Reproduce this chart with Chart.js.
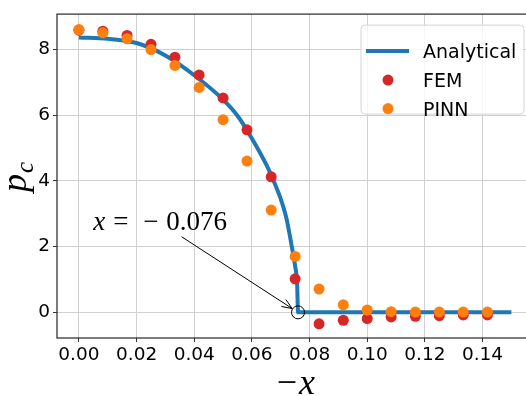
<!DOCTYPE html>
<html lang="en">
<head>
<meta charset="UTF-8" />
<title>Contact pressure p_c</title>
<script src="https://cdn.jsdelivr.net/npm/chart.js"></script>
<style>
  html, body { margin: 0; padding: 0; background: #fff; overflow: hidden; }
  #wrap { width: 540px; height: 396px; }
</style>
</head>
<body>
<div id="wrap"><canvas id="chartCanvas" width="540" height="396"></canvas></div>
<script>
  // positions (-x) where FEM and PINN were sampled
  const sampleX = [0, 0.0083, 0.0167, 0.025, 0.0333, 0.0417, 0.05, 0.0583, 0.0667,
                   0.075, 0.0833, 0.0917, 0.1, 0.1083, 0.1167, 0.125, 0.1333, 0.1417];
  const femP  = [8.58, 8.55, 8.42, 8.15, 7.76, 7.22, 6.52, 5.55, 4.12,
                 1.02, -0.35, -0.24, -0.19, -0.14, -0.12, -0.10, -0.08, -0.08];
  const pinnP = [8.60, 8.50, 8.32, 7.99, 7.51, 6.84, 5.86, 4.60, 3.11,
                 1.70, 0.71, 0.23, 0.07, 0.02, 0.01, 0.01, 0.01, 0.01];

  // analytical solution, drops to zero at the contact edge
  const exactX = [0, 0.01, 0.02, 0.03, 0.04, 0.05, 0.055, 0.06, 0.065, 0.068,
                  0.07, 0.072, 0.074, 0.075, 0.0757, 0.076, 0.15];
  const exactP = [8.36, 8.32, 8.19, 7.81, 7.21, 6.47, 5.98, 5.29, 4.49, 3.90,
                  3.45, 2.85, 1.92, 1.40, 0.85, 0, 0];

  const xTicks = [0, 0.02, 0.04, 0.06, 0.08, 0.10, 0.12, 0.14];
  const yTicks = [0, 2, 4, 6, 8];

  const contactEdge = [0.076, 0];     // circled point
  const noteAt = [0.005, 2.5];        // annotation text baseline start
  const arrowFrom = [0.0356, 2.30];

  const BLUE = '#1f77b4', RED = '#d62728', ORANGE = '#ff7f0e';
  const SANS = '"DejaVu Sans", sans-serif';
  const SERIF = '"Liberation Serif", "Times New Roman", serif';

  const pts = (xs, ys) => xs.map((x, i) => ({ x: x, y: ys[i] }));

  // frame, annotation, legend and axis titles
  const decor = {
    id: 'decor',
    afterDraw(chart) {
      const c = chart.ctx, a = chart.chartArea;
      const sx = chart.scales.x, sy = chart.scales.y;
      c.save();

      // axes frame
      c.strokeStyle = '#262626';
      c.lineWidth = 1.2;
      c.strokeRect(a.left, a.top, a.right - a.left, a.bottom - a.top);

      // circle + arrow at the contact edge
      const cx = sx.getPixelForValue(contactEdge[0]), cy = sy.getPixelForValue(contactEdge[1]);
      const r = 6.5;
      c.strokeStyle = '#000';
      c.lineWidth = 1;
      c.beginPath(); c.arc(cx, cy, r, 0, Math.PI * 2); c.stroke();

      const ax = sx.getPixelForValue(arrowFrom[0]), ay = sy.getPixelForValue(arrowFrom[1]);
      const ang = Math.atan2(cy - ay, cx - ax);
      const tx = cx - Math.cos(ang) * (r + 0.5), ty = cy - Math.sin(ang) * (r + 0.5);
      c.beginPath(); c.moveTo(ax, ay); c.lineTo(tx, ty); c.stroke();
      const hl = 11, spread = 22 * Math.PI / 180;
      c.beginPath();
      c.moveTo(tx - hl * Math.cos(ang - spread), ty - hl * Math.sin(ang - spread));
      c.lineTo(tx, ty);
      c.lineTo(tx - hl * Math.cos(ang + spread), ty - hl * Math.sin(ang + spread));
      c.stroke();

      // x = -0.076
      const nx = sx.getPixelForValue(noteAt[0]), ny = sy.getPixelForValue(noteAt[1]);
      c.fillStyle = '#000';
      c.textBaseline = 'alphabetic';
      c.textAlign = 'left';
      c.font = 'italic 27px ' + SERIF;
      c.fillText('x', nx, ny);
      c.font = '27px ' + SERIF;
      c.fillText('=', nx + 20, ny);
      c.fillText('\u2212', nx + 50, ny);
      c.fillText('0.076', nx + 73, ny);

      // legend
      const lx = a.right - 172, ly = a.top + 11;
      c.beginPath();
      c.roundRect(lx, ly, 163, 89, 4);
      c.fillStyle = 'rgba(255,255,255,0.8)';
      c.fill();
      c.strokeStyle = '#d4d4d4';
      c.lineWidth = 1;
      c.stroke();
      const rows = [26, 55, 83.5];
      chart.data.datasets.forEach((ds, i) => {
        const ry = ly + rows[i];
        if (ds.showLine) {
          c.strokeStyle = ds.borderColor;
          c.lineWidth = 4;
          c.beginPath(); c.moveTo(lx + 5, ry); c.lineTo(lx + 48, ry); c.stroke();
        } else {
          c.fillStyle = ds.backgroundColor;
          c.beginPath(); c.arc(lx + 27, ry, 5.5, 0, Math.PI * 2); c.fill();
        }
        c.fillStyle = '#000';
        c.font = '19px ' + SANS;
        c.fillText(ds.label, lx + 62, ry + 7);
      });

      // axis titles
      const mid = (a.left + a.right) / 2;
      c.font = '36px ' + SERIF;
      c.fillText('\u2212', 276.7, 394);
      c.font = 'italic 36px ' + SERIF;
      c.fillText('x', 299, 394);

      c.translate(25.7, 192);
      c.rotate(-Math.PI / 2);
      c.font = 'italic 36px ' + SERIF;
      c.fillText('p', 0, 0);
      const pw = c.measureText('p').width;
      c.font = 'italic 25px ' + SERIF;
      c.fillText('c', pw + 1, 7);

      c.restore();
    }
  };

  const tickFont = { family: SANS, size: 18.5 };

  new Chart(document.getElementById('chartCanvas'), {
    type: 'scatter',
    data: {
      datasets: [
        { label: 'Analytical', data: pts(exactX, exactP), showLine: true,
          borderColor: BLUE, backgroundColor: BLUE, borderWidth: 4, pointRadius: 0,
          cubicInterpolationMode: 'monotone', borderCapStyle: 'butt', order: 2 },
        { label: 'FEM', data: pts(sampleX, femP), backgroundColor: RED,
          borderWidth: 0, pointRadius: 5.5, order: 1 },
        { label: 'PINN', data: pts(sampleX, pinnP), backgroundColor: ORANGE,
          borderWidth: 0, pointRadius: 5.5, order: 0 }
      ]
    },
    options: {
      responsive: false,
      animation: false,
      events: [],
      layout: { padding: { top: 7, right: 7, left: 0, bottom: 0 } },
      plugins: { legend: { display: false }, tooltip: { enabled: false } },
      scales: {
        x: {
          type: 'linear', min: -0.0076, max: 0.1575,
          afterBuildTicks: s => { s.ticks = xTicks.map(v => ({ value: v })); },
          afterFit: s => { s.height = 58; },
          ticks: { font: tickFont, color: '#000', padding: 2, maxRotation: 0,
                   callback: v => v.toFixed(2) },
          grid: { color: '#d0d0d0', lineWidth: 1, tickColor: '#333', tickLength: 4 },
          border: { display: false }
        },
        y: {
          type: 'linear', min: -0.78, max: 9.07,
          afterBuildTicks: s => { s.ticks = yTicks.map(v => ({ value: v })); },
          afterFit: s => { s.width = 57; },
          ticks: { font: tickFont, color: '#000', padding: 3, callback: v => String(v) },
          grid: { color: '#d0d0d0', lineWidth: 1, tickColor: '#333', tickLength: 4 },
          border: { display: false }
        }
      }
    },
    plugins: [decor]
  });
</script>
</body>
</html>
